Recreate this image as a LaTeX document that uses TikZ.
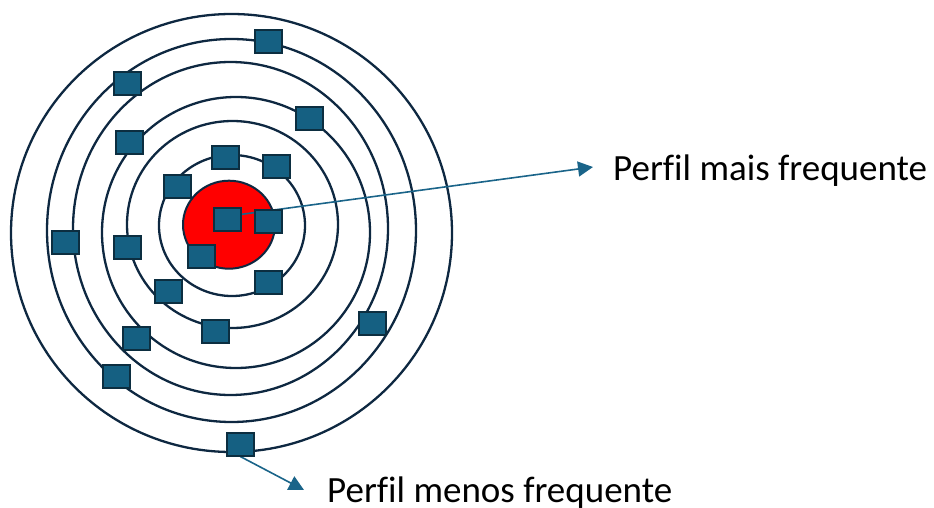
\documentclass[tikz,border=0pt]{standalone}
\usepackage{fontspec}
\setmainfont[Ligatures={NoCommon}]{Carlito}
\usetikzlibrary{arrows.meta,backgrounds}
\definecolor{ringc}{HTML}{0E2841}
\definecolor{sqfill}{HTML}{156082}
\definecolor{sqedge}{HTML}{0C2E40}
\definecolor{arrc}{HTML}{1A6489}
\tikzset{
  ring/.style={draw=ringc,line width=2.3pt},
  sq/.style={draw=sqedge,fill=sqfill,line width=2pt,minimum width=27pt,minimum height=23pt,inner sep=0pt},
  pointer/.style={draw=arrc,line width=1.6pt,-{Triangle[width=15pt,length=15pt]}},
  lbl/.style={font=\fontsize{37}{40}\selectfont,anchor=base west,inner sep=0pt,text=black}
}
\begin{document}
\begin{tikzpicture}[x=1pt,y=-1pt]
\useasboundingbox (0,0) rectangle (934,508);
% squares
\node[sq] (s1) at (268.3,42) {};
\node[sq] (s2) at (127,84) {};
\node[sq] (s3) at (309.7,118.3) {};
\node[sq] (s4) at (129,142.7) {};
\node[sq] (s5) at (225,157.3) {};
\node[sq] (s6) at (276.3,166.7) {};
\node[sq] (s7) at (177.3,186) {};
\node[sq] (s8) at (227,219.3) {};
\node[sq] (s9) at (268.3,221.7) {};
\node[sq] (s10) at (65.3,242.7) {};
\node[sq] (s11) at (127,247) {};
\node[sq] (s12) at (201.7,256.7) {};
\node[sq] (s13) at (268.3,282) {};
\node[sq] (s14) at (168.7,291.7) {};
\node[sq] (s15) at (215.3,331) {};
\node[sq] (s16) at (372,323) {};
\node[sq] (s17) at (136.7,338) {};
\node[sq] (s18) at (116.7,376) {};
\node[sq] (s19) at (240.3,444) {};
% labels
\node[lbl] (t1) at (613,180) {Perfil mais frequente};
\node[lbl] (t2) at (327,502) {Perfil menos frequente};
\coordinate (tip1) at (593,167);
\coordinate (tip2) at (304,490);
\begin{pgfonlayer}{background}
\draw[ring] (231.5,233) ellipse [x radius=220.5,y radius=219];
\draw[ring] (231.5,230.5) ellipse [x radius=184.5,y radius=191.5];
\draw[ring] (230.5,228.5) ellipse [x radius=157.5,y radius=166.5];
\draw[ring] (236,232.5) ellipse [x radius=134,y radius=135.5];
\draw[ring] (232.5,224.5) ellipse [x radius=105.5,y radius=103.5];
\draw[ring] (232,225.5) ellipse [x radius=73,y radius=70.5];
\draw[draw=ringc,line width=2pt,fill=red] (229,224.7) ellipse [x radius=46,y radius=44];
\draw[pointer] ([yshift=3pt]s8.center) -- (tip1);
\draw[pointer] (s19.south) -- (tip2);
\end{pgfonlayer}
\end{tikzpicture}
\end{document}
